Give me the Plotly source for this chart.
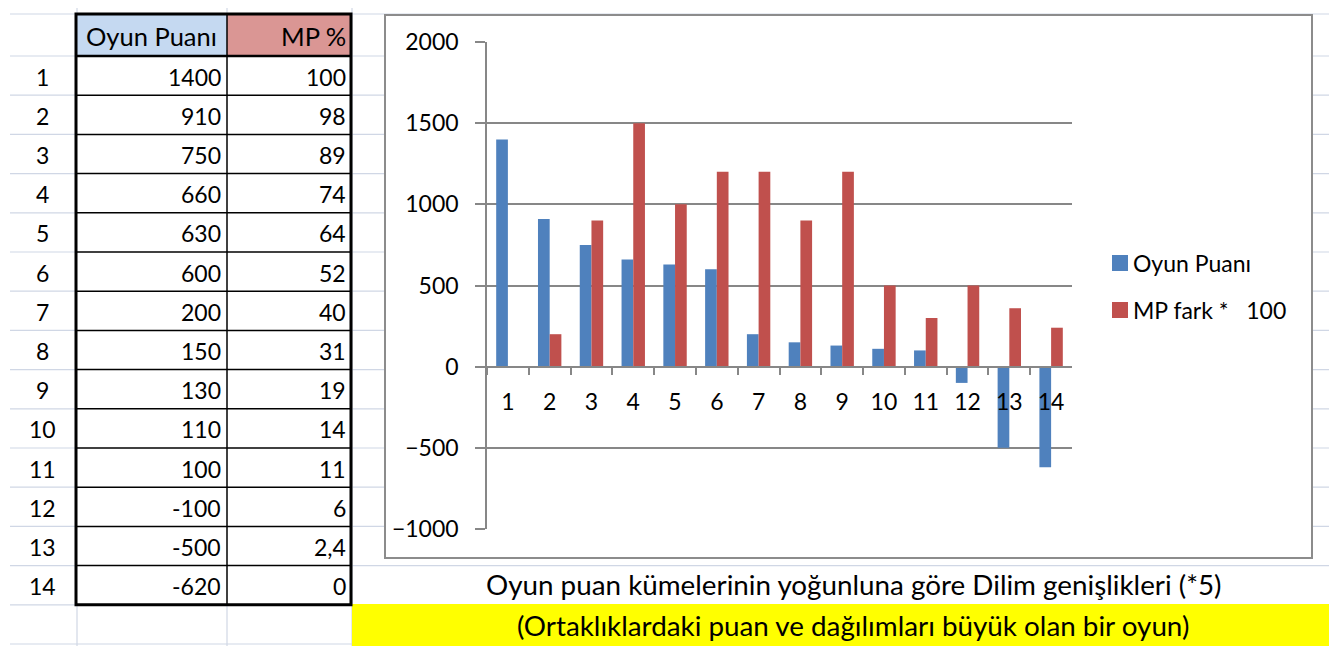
import plotly.graph_objects as go

# ---------------- data ----------------
categories = ["1", "2", "3", "4", "5", "6", "7", "8", "9", "10", "11", "12", "13", "14"]
oyun_puani = [1400, 910, 750, 660, 630, 600, 200, 150, 130, 110, 100, -100, -500, -620]
mp_percent_labels = ["100", "98", "89", "74", "64", "52", "40", "31", "19", "14", "11", "6", "2,4", "0"]
mp_fark_100 = [None, 200, 900, 1500, 1000, 1200, 1200, 900, 1200, 500, 300, 500, 360, 240]
y_ticks = [-1000, -500, 0, 500, 1000, 1500, 2000]

series_names = ["Oyun Puanı", "MP fark *\u00a0\u00a0 100"]
table_headers = ["Oyun Puanı", "MP %"]
chart_title = "Oyun puan kümelerinin yoğunluna göre Dilim genişlikleri (*5)"
chart_note = "(Ortaklıklardaki puan ve dağılımları büyük olan bir oyun)"

# ---------------- styling ----------------
W, H = 1337, 646          # page (window) size
OFF = 8                   # default page margin around the figure
FW, FH = W - OFF, H - OFF  # figure size
FONT = "Lato"
BLUE = "#4f81bd"
RED = "#c0504d"
AXIS_GREY = "#878787"
SHEET_GRID = "#d0d7e5"
NUM_FS = 23      # digits
HEAD_FS = 25.5   # header text
TITLE_FS = 27.8  # texts below chart
LEG_FS = 23


def px(x):
    """window pixel x -> paper x"""
    return (x - OFF) / FW


def py(y):
    """window pixel y -> paper y"""
    return 1 - (y - OFF) / FH


# plot area in window pixels
PX0, PX1 = 487, 1072
PY_TOP, PY_BOT = 42, 529
y_dom = [py(PY_BOT), py(PY_TOP)]
y_min, y_max = y_ticks[0], y_ticks[-1]
x_axis_pos = y_dom[0] + (0 - y_min) / (y_max - y_min) * (y_dom[1] - y_dom[0])

fig = go.Figure()
fig.add_trace(go.Bar(x=categories, y=oyun_puani, name=series_names[0],
                     marker=dict(color=BLUE, line=dict(width=0)), showlegend=False))
fig.add_trace(go.Bar(x=categories, y=mp_fark_100, name=series_names[1],
                     marker=dict(color=RED, line=dict(width=0)), showlegend=False))

shapes = []
# spreadsheet grid lines
row_top = 56.0
row_h = 39.2
h_lines = [14.0] + [row_top + k * row_h for k in range(16)]
for yy in h_lines:
    shapes.append(dict(type="line", xref="paper", yref="paper", layer="below",
                       x0=px(10), x1=px(W), y0=py(yy), y1=py(yy),
                       line=dict(color=SHEET_GRID, width=1.2)))
for xx in [77, 227, 352]:
    shapes.append(dict(type="line", xref="paper", yref="paper", layer="below",
                       x0=px(xx), x1=px(xx), y0=py(OFF), y1=py(H),
                       line=dict(color=SHEET_GRID, width=1.2)))

# chart box
shapes.append(dict(type="rect", xref="paper", yref="paper", layer="below",
                   x0=px(385), x1=px(1312), y0=py(558), y1=py(15),
                   fillcolor="white", line=dict(color="#8c8c8c", width=2)))

# yellow band
shapes.append(dict(type="rect", xref="paper", yref="paper", layer="below",
                   x0=px(352), x1=px(1333), y0=py(H), y1=py(604),
                   fillcolor="#ffff00", line=dict(width=0)))

# table
T_L, T_M, T_R, T_T = 76, 227, 351, 14
T_B = row_top + 14 * row_h
shapes.append(dict(type="rect", xref="paper", yref="paper", layer="below",
                   x0=px(T_L), x1=px(T_R), y0=py(T_B), y1=py(T_T),
                   fillcolor="white", line=dict(width=0)))
shapes.append(dict(type="rect", xref="paper", yref="paper", layer="below",
                   x0=px(T_L), x1=px(T_M), y0=py(row_top), y1=py(T_T),
                   fillcolor="#c5d9f1", line=dict(width=0)))
shapes.append(dict(type="rect", xref="paper", yref="paper", layer="below",
                   x0=px(T_M), x1=px(T_R), y0=py(row_top), y1=py(T_T),
                   fillcolor="#da9694", line=dict(width=0)))
for k in range(1, 14):
    yy = row_top + k * row_h
    shapes.append(dict(type="line", xref="paper", yref="paper", layer="below",
                       x0=px(T_L), x1=px(T_R), y0=py(yy), y1=py(yy),
                       line=dict(color="black", width=1.5)))
shapes.append(dict(type="line", xref="paper", yref="paper", layer="below",
                   x0=px(T_L), x1=px(T_R), y0=py(row_top), y1=py(row_top),
                   line=dict(color="black", width=2.5)))
shapes.append(dict(type="line", xref="paper", yref="paper", layer="below",
                   x0=px(T_M), x1=px(T_M), y0=py(T_B), y1=py(T_T),
                   line=dict(color="black", width=1.5)))
shapes.append(dict(type="rect", xref="paper", yref="paper", layer="below",
                   x0=px(T_L), x1=px(T_R), y0=py(T_B), y1=py(T_T),
                   line=dict(color="black", width=3)))

# legend squares
LEG_X = 1112
LEG_Y = [263, 310]
for yy, col in zip(LEG_Y, [BLUE, RED]):
    shapes.append(dict(type="rect", xref="paper", yref="paper", layer="above",
                       x0=px(LEG_X), x1=px(LEG_X + 16), y0=py(yy + 8), y1=py(yy - 8),
                       fillcolor=col, line=dict(width=0)))

annotations = []
# header
annotations.append(dict(text=table_headers[0], x=px(151), y=py(36), xref="paper", yref="paper",
                        xanchor="center", yanchor="middle", showarrow=False,
                        font=dict(family=FONT, size=HEAD_FS, color="black")))
annotations.append(dict(text=table_headers[1], x=px(348), y=py(36), xref="paper", yref="paper",
                        xanchor="right", yanchor="middle", showarrow=False,
                        font=dict(family=FONT, size=HEAD_FS, color="black")))
for i, (cat, op, mp) in enumerate(zip(categories, oyun_puani, mp_percent_labels)):
    yc = row_top + (i + 0.5) * row_h + 1
    annotations.append(dict(text=cat, x=px(42), y=py(yc), xref="paper", yref="paper",
                            xanchor="center", yanchor="middle", showarrow=False,
                            font=dict(family=FONT, size=NUM_FS, color="black")))
    annotations.append(dict(text=str(op), x=px(223), y=py(yc), xref="paper", yref="paper",
                            xanchor="right", yanchor="middle", showarrow=False,
                            font=dict(family=FONT, size=NUM_FS, color="black")))
    annotations.append(dict(text=mp, x=px(348), y=py(yc), xref="paper", yref="paper",
                            xanchor="right", yanchor="middle", showarrow=False,
                            font=dict(family=FONT, size=NUM_FS, color="black")))

# legend text
for yy, name in zip(LEG_Y, series_names):
    annotations.append(dict(text=name, x=px(LEG_X + 19), y=py(yy), xref="paper", yref="paper",
                            xanchor="left", yanchor="middle", showarrow=False,
                            font=dict(family=FONT, size=LEG_FS, color="black")))

# titles below chart
annotations.append(dict(text=chart_title, x=px(854), y=py(584), xref="paper", yref="paper",
                        xanchor="center", yanchor="middle", showarrow=False,
                        font=dict(family=FONT, size=TITLE_FS, color="black")))
annotations.append(dict(text=chart_note, x=px(853), y=py(625), xref="paper", yref="paper",
                        xanchor="center", yanchor="middle", showarrow=False,
                        font=dict(family=FONT, size=TITLE_FS, color="black")))

fig.update_layout(
    width=FW, height=FH, autosize=False,
    margin=dict(l=0, r=0, t=0, b=0, pad=0, autoexpand=False),
    paper_bgcolor="white",
    plot_bgcolor="rgba(0,0,0,0)",
    barmode="group", bargap=0.44, bargroupgap=0,
    showlegend=False,
    font=dict(family=FONT, size=NUM_FS, color="black"),
    shapes=shapes,
    annotations=annotations,
    xaxis=dict(
        type="category", domain=[px(PX0), px(PX1)], anchor="free", position=x_axis_pos,
        showline=True, linecolor=AXIS_GREY, linewidth=1.5,
        ticks="outside", tickson="boundaries", ticklen=8, tickwidth=1.5, tickcolor=AXIS_GREY,
        showgrid=False, zeroline=False, fixedrange=True, automargin=False,
        tickfont=dict(family=FONT, size=NUM_FS, color="black"), ticklabelstandoff=15,
    ),
    yaxis=dict(
        domain=y_dom, range=[y_min, y_max], tickvals=y_ticks,
        showline=True, linecolor=AXIS_GREY, linewidth=1.5,
        ticks="outside", ticklen=10, tickwidth=1.5, tickcolor=AXIS_GREY,
        showgrid=True, gridcolor=AXIS_GREY, gridwidth=1.5, zeroline=False,
        tickfont=dict(family=FONT, size=NUM_FS, color="black"), ticklabelstandoff=12,
        fixedrange=True, automargin=False,
    ),
)

fig.write_html("out.html", config={"displayModeBar": False})
